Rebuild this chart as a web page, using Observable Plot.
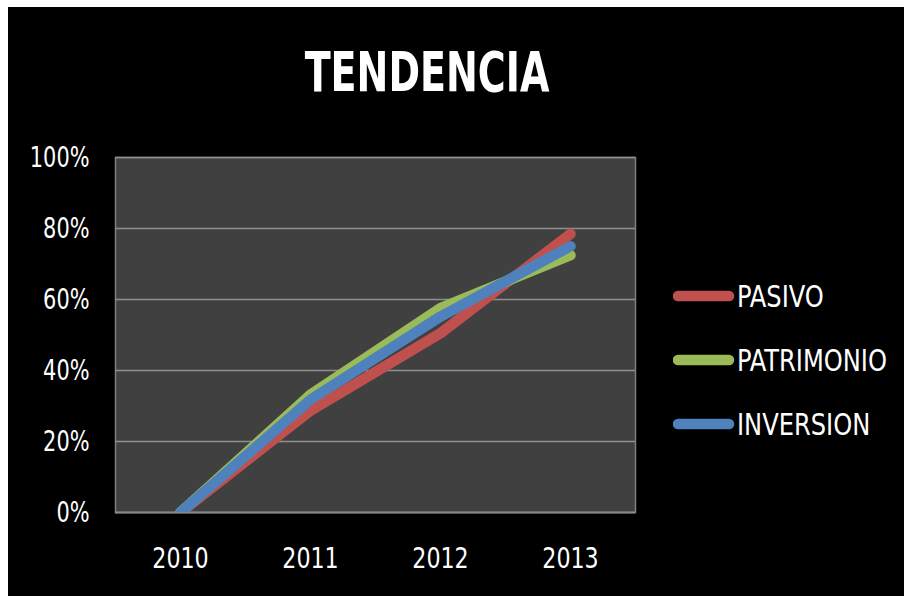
<!DOCTYPE html>
<html>
<head>
<meta charset="utf-8">
<script src="https://cdn.jsdelivr.net/npm/d3@7"></script>
<script src="https://cdn.jsdelivr.net/npm/@observablehq/plot@0.6"></script>
<style>
  html, body { margin: 0; padding: 0; background: #fff; }
  #wrap { position: absolute; left: 8px; top: 7px; width: 896px; height: 589px; background: #000; overflow: hidden; }
  #title { position: absolute; left: 0; top: 0; width: 838px; height: 120px; }
  #chart { position: absolute; left: 0; top: 120px; }
  #legend { position: absolute; left: 665px; top: 270px; }
</style>
</head>
<body>
<div id="wrap">
  <div id="title"></div>
  <div id="chart"></div>
  <div id="legend"></div>
</div>
<script>
const titleText = "TENDENCIA";
const years = ["2010", "2011", "2012", "2013"];
const seriesNames = ["PASIVO", "PATRIMONIO", "INVERSION"];
const seriesColors = ["#C0504D", "#9BBB59", "#4F81BD"];
const pasivo = [0, 0.287, 0.505, 0.785];
const patrimonio = [0, 0.332, 0.576, 0.725];
const inversion = [0, 0.318, 0.552, 0.75];
const yTicks = [0, 0.2, 0.4, 0.6, 0.8, 1];

const seriesValues = [pasivo, patrimonio, inversion];
const data = seriesNames.flatMap((s, i) => years.map((y, j) => ({series: s, year: y, value: seriesValues[i][j]})));

const fontFamily = '"Liberation Sans Narrow", "DejaVu Sans Condensed", sans-serif';

function squeeze(sel, factor) {
  sel.each(function() {
    const w = this.getComputedTextLength();
    this.setAttribute("textLength", w * factor);
    this.setAttribute("lengthAdjust", "spacingAndGlyphs");
  });
}

// Title
const tsvg = d3.select("#title").append("svg").attr("width", 838).attr("height", 120);
const tt = tsvg.append("text").attr("x", 419).attr("y", 84).attr("text-anchor", "middle")
  .attr("fill", "#fff").attr("font-family", fontFamily).attr("font-weight", "bold")
  .attr("font-size", 56).text(titleText);

const plot = Plot.plot({
  width: 896,
  height: 469,
  marginTop: 30,
  marginBottom: 84,
  marginLeft: 107,
  marginRight: 269,
  style: {background: "transparent", color: "#fff", fontFamily, fontSize: "29px"},
  x: {type: "point", domain: years, padding: 0.5, label: null, tickSize: 0, tickPadding: 35},
  y: {domain: [0, 1], ticks: yTicks, tickFormat: d3.format(".0%"), label: null, tickSize: 0, tickPadding: 26},
  color: {domain: seriesNames, range: seriesColors},
  marks: [
    Plot.frame({fill: "#404040", stroke: "#7f7f7f", strokeWidth: 1.5}),
    Plot.gridY(yTicks.filter(d => d > 0), {stroke: "#909090", strokeOpacity: 1, strokeWidth: 1.5}),
    Plot.ruleY([0], {stroke: "#8a8a8a", strokeWidth: 2}),
    Plot.lineY(data, {x: "year", y: "value", z: "series", stroke: "series", strokeWidth: 10.5,
      strokeLinecap: "round", strokeLinejoin: "round", clip: "frame"})
  ]
});
document.getElementById("chart").appendChild(plot);

// Legend
const leg = d3.select("#legend").append("svg").attr("width", 231).attr("height", 200);
seriesNames.forEach((name, i) => {
  const cy = 19 + i * 64;
  leg.append("line").attr("x1", 5).attr("x2", 56).attr("y1", cy).attr("y2", cy)
    .attr("stroke", seriesColors[i]).attr("stroke-width", 10.5).attr("stroke-linecap", "round");
  leg.append("text").attr("class", "legtext").attr("x", 64).attr("y", cy).attr("dy", "0.36em")
    .attr("fill", "#fff").attr("font-size", 29.5).attr("font-family", fontFamily).text(name);
});

// Narrow the glyphs to match the condensed look of the original
squeeze(tt, 0.755);
squeeze(d3.select(plot).selectAll('g[aria-label="y-axis tick label"] text'), 0.8);
squeeze(d3.select(plot).selectAll('g[aria-label="x-axis tick label"] text'), 0.85);
squeeze(leg.selectAll("text.legtext"), 0.91);
</script>
</body>
</html>
